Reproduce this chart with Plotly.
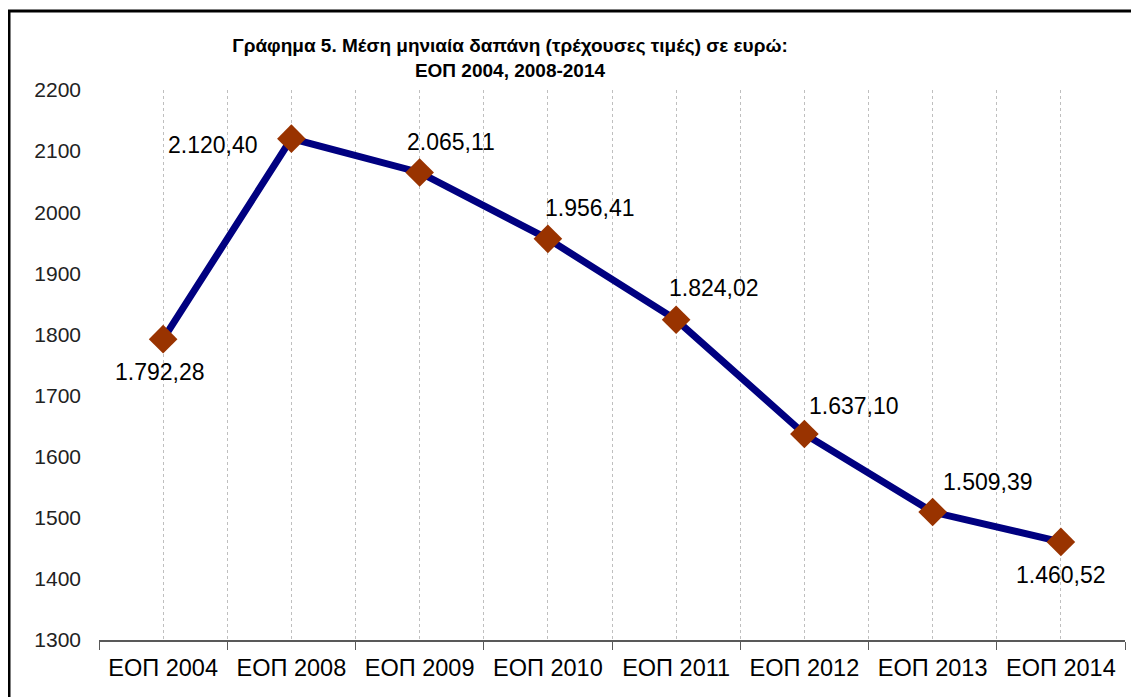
import plotly.graph_objects as go

categories = ["ΕΟΠ 2004", "ΕΟΠ 2008", "ΕΟΠ 2009", "ΕΟΠ 2010", "ΕΟΠ 2011", "ΕΟΠ 2012", "ΕΟΠ 2013", "ΕΟΠ 2014"]
values = [1792.28, 2120.40, 2065.11, 1956.41, 1824.02, 1637.10, 1509.39, 1460.52]
value_labels = ["1.792,28", "2.120,40", "2.065,11", "1.956,41", "1.824,02", "1.637,10", "1.509,39", "1.460,52"]
label_dx = [-3, -78, 31, 42, 38, 50, 55, 0]
label_dy = [-33, -6, 30, 31, 32, 28, 30, -33]
title_text = "<b>Γράφημα 5. Μέση μηνιαία δαπάνη (τρέχουσες τιμές) σε ευρώ:<br>ΕΟΠ 2004, 2008-2014</b>"

# page body has an 8px margin; figure is sized to fit the window
OFF = 8
W, H = 1139 - OFF, 697 - OFF
ml = 99 - OFF
mt = 90 - OFF
mr = W - (1125 - OFF)
mb = H - (640 - OFF)
pw, ph = W - ml - mr, H - mt - mb

fig = go.Figure()
fig.add_trace(go.Scatter(
    x=categories, y=values, mode="lines+markers",
    line=dict(color="#000080", width=7),
    marker=dict(symbol="diamond", size=22, color="#993300"),
    cliponaxis=False, showlegend=False,
))
# helper trace for center gridlines
fig.add_trace(go.Scatter(x=categories, y=values, xaxis="x2", mode="none",
                         showlegend=False, hoverinfo="skip"))

annotations = [
    dict(x=c, y=v, text=t, xref="x", yref="y", showarrow=False,
         xshift=dx, yshift=dy,
         font=dict(family="Liberation Sans, Arial", size=23, color="#000000"))
    for c, v, t, dx, dy in zip(categories, values, value_labels, label_dx, label_dy)
]

grid = dict(showgrid=True, gridcolor="#bfbfbf", griddash="dot", gridwidth=1)
fig.update_layout(
    width=W, height=H,
    margin=dict(l=ml, r=mr, t=mt, b=mb),
    paper_bgcolor="white", plot_bgcolor="white",
    title=dict(text=title_text, x=(510 - 99) / pw, xref="paper", xanchor="center",
               y=1 - 44 / H, yanchor="top",
               font=dict(family="Liberation Sans, Arial", size=19, color="#000000")),
    xaxis=dict(type="category", range=[-0.5, 7.5], tickson="boundaries",
               ticks="outside", ticklen=8, tickcolor="#595959", showline=True,
               linecolor="#595959", linewidth=1.5, ticklabelstandoff=6,
               tickfont=dict(family="Liberation Sans, Arial", size=23.5, color="#000000"),
               **grid),
    xaxis2=dict(type="category", range=[-0.5, 7.5], overlaying="x", matches="x",
                showticklabels=False, ticks="", showline=False, **grid),
    yaxis=dict(range=[1300, 2200], dtick=100, showgrid=False, showline=False,
               ticks="", zeroline=False, ticklabelstandoff=17,
               tickfont=dict(family="Liberation Sans, Arial", size=21, color="#222222")),
    annotations=annotations,
    shapes=[dict(type="rect", xref="paper", yref="paper",
                 x0=(9 - 99) / pw, x1=(1139 + 20 - 99) / pw,
                 y0=-(697 + 20 - 640) / ph, y1=1 + (90 - 11) / ph,
                 line=dict(color="#000000", width=3), fillcolor="rgba(0,0,0,0)", layer="above")],
)
fig.write_html("out.html")
